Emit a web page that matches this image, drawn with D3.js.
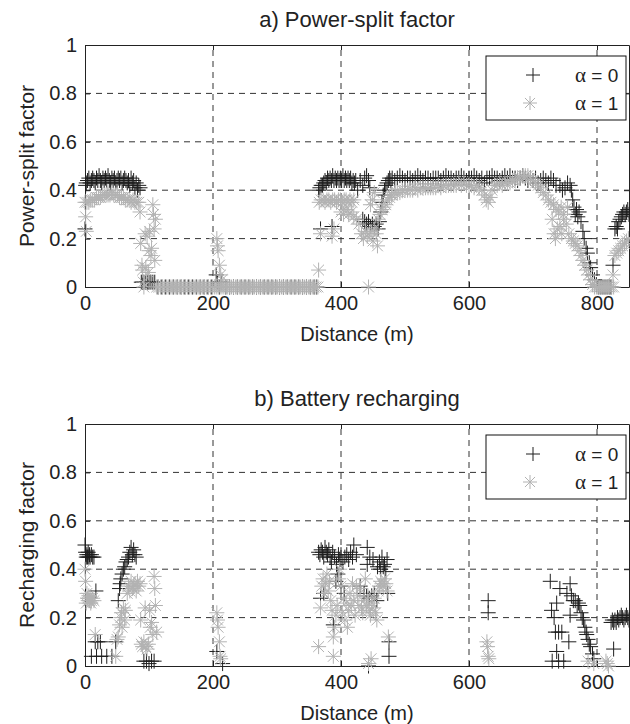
<!DOCTYPE html>
<html>
<head>
<meta charset="utf-8">
<title>Power-split and recharging factors</title>
<script src="https://d3js.org/d3.v7.min.js"></script>
<style>
  body { margin: 0; background: #fff; }
  text { font-family: "Liberation Sans", Arial, sans-serif; fill: #222; }
</style>
</head>
<body>
<div id="chart"></div>
<script>
// axis settings
var xTicks = [0, 200, 400, 600, 800];
var yTicks = [0, 0.2, 0.4, 0.6, 0.8, 1];
var yTickLabels = ["0", "0.2", "0.4", "0.6", "0.8", "1"];
var legendLabels = ["0", "1"];   // alpha values

// a) power-split factor, alpha = 0  [distance (m), factor]
var split0 = [
  [0,0.24],[1,0.42],[2,0.43],[4,0.44],[6,0.45],[8,0.43],[10,0.44],[12,0.45],[14,0.44],[16,0.43],[18,0.45],
  [20,0.44],[22,0.46],[24,0.44],[26,0.43],[28,0.45],[30,0.44],[32,0.45],[34,0.44],[36,0.46],[38,0.44],
  [40,0.43],[42,0.45],[44,0.44],[46,0.45],[48,0.43],[50,0.44],[52,0.45],[54,0.44],[56,0.45],[58,0.43],
  [60,0.44],[62,0.45],[64,0.44],[66,0.43],[68,0.44],[70,0.42],[72,0.45],[74,0.43],[76,0.44],[78,0.41],
  [80,0.43],[82,0.40],[84,0.42],[86,0.41],
  [88,0.02],[90,0.02],[92,0.02],[95,0.02],[98,0.02],[100,0.02],[103,0.02],[106,0.02],[109,0.02],
  [114,0],[120,0],[126,0],[132,0],[138,0],[144,0],[150,0],[156,0],[162,0],[168,0],[174,0],[180,0],
  [186,0],[192,0],[198,0],[205,0.05],[207,0.02],[210,0],[213,0.02],[220,0],[226,0],[232,0],[238,0],
  [244,0],[250,0],[256,0],[262,0],[268,0],[274,0],[280,0],[286,0],[292,0],[298,0],[304,0],[310,0],
  [316,0],[322,0],[328,0],[334,0],[340,0],[346,0],[352,0],[358,0],[362,0],
  [368,0.24],[386,0.25],
  [365,0.40],[367,0.41],[369,0.42],[371,0.42],[373,0.43],[375,0.44],[377,0.43],[379,0.45],[381,0.44],
  [383,0.45],[385,0.44],[387,0.46],[389,0.44],[391,0.45],[393,0.44],[395,0.45],[397,0.44],[399,0.45],
  [401,0.44],[403,0.46],[405,0.44],[407,0.45],[409,0.44],[411,0.45],[413,0.44],[415,0.45],[417,0.43],
  [419,0.44],[421,0.43],[423,0.44],[426,0.40],[430,0.44],[434,0.42],[437,0.45],[440,0.46],[443,0.44],
  [445,0.41],
  [434,0.28],[437,0.27],[440,0.26],[443,0.27],[446,0.25],[449,0.26],[452,0.25],[455,0.26],[458,0.24],
  [460,0.27],[462,0.31],[464,0.35],[466,0.38],[468,0.40],[470,0.42],[472,0.43],[474,0.44],[476,0.45],
  [478,0.44],
  [480,0.45],[484,0.44],[488,0.45],[492,0.46],[496,0.45],[500,0.44],[504,0.45],[508,0.45],[512,0.44],
  [516,0.45],[520,0.46],[524,0.45],[528,0.44],[532,0.45],[536,0.45],[540,0.44],[544,0.45],[548,0.45],
  [552,0.45],[556,0.44],[560,0.45],[564,0.46],[568,0.45],[572,0.45],[576,0.44],[580,0.45],[584,0.45],
  [588,0.46],[592,0.45],[596,0.44],[600,0.45],[604,0.45],[608,0.46],[612,0.45],[616,0.44],[620,0.45],
  [624,0.43],[628,0.45],[632,0.45],[636,0.46],[640,0.45],[644,0.45],[648,0.44],[652,0.45],[656,0.46],
  [660,0.45],[664,0.46],[668,0.45],[672,0.45],[676,0.44],[680,0.45],[684,0.46],[688,0.45],[692,0.44],
  [696,0.45],[700,0.44],[704,0.45],[708,0.43],[712,0.44],[716,0.45],[720,0.44],[724,0.43],[728,0.45],
  [732,0.44],[736,0.42],
  [742,0.42],[746,0.40],[750,0.41],[754,0.43],[758,0.42],[760,0.40],
  [762,0.36],[764,0.33],[766,0.30],[768,0.32],[770,0.29],[772,0.31],[775,0.27],[778,0.23],[780,0.20],
  [783,0.16],[785,0.14],[788,0.10],[790,0.08],[793,0.05],[796,0.03],[799,0.01],
  [802,0],[805,0],[808,0],[811,0],[814,0],[817,0],[820,0],[822,0],
  [825,0.09],[828,0.24],[830,0.25],[832,0.24],[834,0.27],[836,0.28],[838,0.29],[840,0.30],[842,0.31],
  [844,0.30],[846,0.31],[848,0.32],[850,0.30]
];

// a) power-split factor, alpha = 1
var split1 = [
  [0,0.35],[1,0.29],[2,0.23],
  [3,0.35],[6,0.35],[9,0.36],[12,0.36],[15,0.36],[18,0.37],[21,0.37],[24,0.37],[27,0.38],[30,0.38],
  [33,0.38],[36,0.38],[39,0.38],[42,0.39],[45,0.38],[48,0.38],[51,0.38],[54,0.37],[57,0.37],[60,0.37],
  [63,0.36],[66,0.36],[69,0.36],[72,0.35],[75,0.36],[78,0.35],[81,0.35],[84,0.35],
  [86,0.31],[87,0.18],[89,0.09],[90,0.07],[91,0.02],[92,0],[94,0.22],[95,0.08],[97,0.21],[99,0.06],
  [100,0.15],[101,0.23],[103,0.13],[104,0.16],[106,0.34],[107,0.30],[108,0.24],[109,0.11],[110,0.28],
  [112,0],[115,0],[118,0],[121,0],[124,0],[127,0],[130,0],[133,0],[136,0],[139,0],[142,0],[145,0],
  [148,0],[151,0],[154,0],[157,0],[160,0],[163,0],[166,0],[169,0],[172,0],[175,0],[178,0],[181,0],
  [184,0],[187,0],[190,0],[193,0],[196,0],[199,0],[202,0],[205,0],[208,0],[211,0],[214,0],[217,0],
  [220,0],[223,0],[226,0],[229,0],[232,0],[235,0],[238,0],[241,0],[244,0],[247,0],[250,0],[253,0],
  [256,0],[259,0],[262,0],[265,0],[268,0],[271,0],[274,0],[277,0],[280,0],[283,0],[286,0],[289,0],
  [292,0],[295,0],[298,0],[301,0],[304,0],[307,0],[310,0],[313,0],[316,0],[319,0],[322,0],[325,0],
  [328,0],[331,0],[334,0],[337,0],[340,0],[343,0],[346,0],[349,0],[352,0],[355,0],[358,0],[361,0],
  [364,0],
  [206,0.20],[207,0.17],[208,0.15],[210,0.09],[212,0.05],[214,0.03],
  [365,0.07],[368,0.22],[386,0.21],[389,0.24],
  [366,0.35],[369,0.36],[372,0.36],[375,0.35],[378,0.36],[381,0.36],[384,0.35],[387,0.36],[390,0.36],
  [393,0.35],[396,0.36],[399,0.36],[402,0.35],[405,0.36],[408,0.36],[411,0.35],[414,0.36],[417,0.35],
  [420,0.36],
  [400,0.31],[404,0.30],[408,0.32],[412,0.30],[416,0.31],[420,0.29],[424,0.28],[428,0.26],[432,0.22],
  [435,0.20],[438,0.23],[441,0.21],[444,0.22],[447,0.23],[450,0.19],[452,0.24],[455,0.22],[457,0.17],
  [446,0.34],[449,0.36],[452,0.39],[443,0],
  [458,0.28],[461,0.30],[464,0.32],[467,0.33],[470,0.34],[473,0.36],[476,0.37],[479,0.38],
  [480,0.38],[484,0.39],[488,0.39],[492,0.39],[496,0.40],[500,0.40],[504,0.40],[508,0.40],[512,0.40],
  [516,0.41],[520,0.40],[524,0.41],[528,0.41],[532,0.41],[536,0.41],[540,0.41],[544,0.41],[548,0.41],
  [552,0.42],[556,0.41],[560,0.42],[564,0.42],[568,0.42],[572,0.42],[576,0.42],[580,0.42],[584,0.43],
  [588,0.42],[592,0.43],[596,0.42],[600,0.42],[604,0.42],[608,0.41],[612,0.42],[616,0.41],[620,0.40],
  [624,0.38],[627,0.36],[630,0.35],[633,0.37],[636,0.40],[640,0.42],[644,0.42],[648,0.43],[652,0.42],
  [656,0.43],[660,0.43],[664,0.43],[668,0.44],[672,0.44],[676,0.45],[680,0.45],[684,0.46],[688,0.46],
  [692,0.46],[696,0.45],[700,0.44],[704,0.43],[708,0.42],[712,0.41],[716,0.39],[720,0.38],[724,0.36],
  [728,0.35],[732,0.34],[736,0.32],[740,0.31],[744,0.33],[748,0.30],[752,0.26],[756,0.22],[760,0.20],
  [730,0.28],[733,0.22],[735,0.20],[738,0.24],[742,0.25],[745,0.22],[748,0.28],[754,0.33],
  [763,0.19],[766,0.18],[769,0.17],[772,0.15],[775,0.13],[778,0.11],[781,0.09],[784,0.07],[787,0.05],
  [790,0.03],[793,0.01],[796,0],[799,0],[802,0],[805,0],[808,0],[811,0],[814,0],[817,0],[820,0],
  [823,0],[826,0],
  [825,0.05],[828,0.13],[831,0.14],[834,0.15],[837,0.16],[840,0.17],[843,0.18],[846,0.19],[849,0.20]
];

// b) battery recharging factor, alpha = 0
var charge0 = [
  [0,0.50],[1,0.47],[2,0.45],[3,0.46],[4,0.45],[5,0.47],[6,0.45],[7,0.46],[8,0.45],[10,0.46],
  [12,0.45],[14,0.45],
  [17,0.31],[16,0.10],[20,0.10],[24,0.10],[10,0.04],[18,0.04],[26,0.04],[34,0.04],[42,0.04],
  [48,0.10],[52,0.27],[54,0.32],[55,0.34],[56,0.36],[58,0.38],[60,0.40],[62,0.41],[64,0.43],
  [66,0.44],[68,0.45],[70,0.47],[72,0.49],[74,0.46],[76,0.48],[78,0.46],[80,0.45],
  [92,0.02],[96,0.02],[100,0.01],[104,0.02],[108,0.02],
  [206,0.06],[215,0.01],
  [365,0.47],[367,0.46],[369,0.48],[371,0.47],[373,0.45],[375,0.49],[377,0.47],[379,0.46],[381,0.48],
  [383,0.45],[385,0.43],[387,0.47],[390,0.45],[393,0.42],[396,0.46],[398,0.44],[400,0.46],[403,0.43],
  [406,0.45],[409,0.46],[412,0.44],[415,0.47],[418,0.45],[420,0.50],[424,0.46],[441,0.49],[441,0.42],
  [445,0.45],[450,0.44],[457,0.41],[460,0.43],[462,0.40],[464,0.45],[466,0.41],[468,0.42],[470,0.39],
  [472,0.44],
  [368,0.28],[373,0.30],[388,0.17],[392,0.35],[395,0.38],[400,0.33],[405,0.30],[430,0.33],[436,0.30],
  [440,0.29],[444,0.28],[448,0.29],[452,0.30],[456,0.27],[473,0.30],[475,0.10],[475,0.04],[443,0],
  [630,0.27],[630,0.22],
  [727,0.35],[742,0.32],[758,0.34],[753,0.30],[760,0.29],[763,0.27],[766,0.27],[769,0.25],[771,0.26],
  [773,0.25],[775,0.22],[777,0.20],[779,0.19],[781,0.16],[783,0.14],[784,0.13],[786,0.11],[788,0.09],
  [790,0.08],[793,0.05],[795,0.03],
  [729,0.23],[733,0.20],[737,0.26],[735,0.14],[740,0.14],[745,0.14],[756,0.10],[737,0.06],[730,0.02],
  [740,0.02],[748,0.02],[758,0.21],
  [826,0.07],[822,0.18],[824,0.19],[826,0.18],[828,0.19],[830,0.18],[832,0.20],[834,0.19],[836,0.20],
  [838,0.21],[840,0.20],[842,0.19],[844,0.20],[846,0.21],[848,0.20],[850,0.19]
];

// b) battery recharging factor, alpha = 1
var charge1 = [
  [0,0.40],[1,0.35],[2,0.26],[3,0.30],[4,0.28],[5,0.27],[6,0.29],[7,0.27],[8,0.28],[9,0.26],
  [10,0.27],[12,0.28],[14,0.27],[16,0.13],
  [48,0.04],[50,0.11],[52,0.12],[54,0.17],[56,0.20],[57,0.22],[58,0.16],[60,0.24],[62,0.19],[63,0.23],
  [66,0.30],[68,0.33],[70,0.31],[72,0.35],[74,0.32],[76,0.33],[78,0.34],[80,0.31],[82,0.35],[84,0.33],
  [86,0.34],
  [87,0.19],[88,0.09],[90,0.08],[92,0.10],[94,0.24],[95,0.08],[97,0.07],[99,0.09],[101,0.23],[102,0.16],
  [104,0.18],[106,0.13],[108,0.37],[109,0.32],[110,0.25],[112,0.14],
  [206,0.22],[207,0.19],[208,0.16],[210,0.10],[211,0.04],[212,0.03],
  [365,0.08],[368,0.24],[370,0.33],[372,0.36],[374,0.30],[376,0.34],[378,0.38],[380,0.31],[382,0.35],
  [384,0.27],[386,0.23],[388,0.12],[388,0.04],[390,0.16],[392,0.21],[394,0.25],[396,0.36],[398,0.40],
  [400,0.33],[402,0.22],[404,0.28],[406,0.19],[408,0.26],[410,0.16],[412,0.23],[414,0.30],[416,0.25],
  [418,0.34],[420,0.27],[422,0.21],[424,0.33],[426,0.29],[428,0.25],[430,0.32],[432,0.24],[434,0.22],
  [436,0.27],[438,0.36],[440,0.25],[442,0.29],[444,0.23],[446,0.21],[448,0.26],[450,0.24],[452,0.28],
  [454,0.22],[456,0.19],[458,0.31],[460,0.33],[462,0.35],[464,0.34],[466,0.33],[468,0.36],[470,0.34],
  [472,0.31],[474,0.12],[443,0.01],[447,0.03],
  [628,0.10],[629,0.08],[630,0.04],[631,0.03],
  [786,0.02],[795,0.01],[814,0.02],[816,0.01],[818,0]
];

var panels = [
  { title: "a) Power-split factor", ylabel: "Power-split factor", top: 45, titleY: 27, a0: split0, a1: split1 },
  { title: "b) Battery recharging", ylabel: "Recharging factor", top: 424, titleY: 406, a0: charge0, a1: charge1 }
];

var w = 630, h = 724;
var plotH = 242;
var ms = 7.5;   // marker half size
var black = "#1e1e1e", grey = "#b2b2b2";

var svg = d3.select("#chart").append("svg")
  .attr("width", w)
  .attr("height", h);

var x = d3.scaleLinear().domain([0, 850]).range([85, 629]);

function plusPath(px, py, s) {
  return "M" + (px - s) + "," + py + "H" + (px + s) + "M" + px + "," + (py - s) + "V" + (py + s);
}
function starPath(px, py, s) {
  var d = s * 0.72;
  return plusPath(px, py, s) +
    "M" + (px - d) + "," + (py - d) + "L" + (px + d) + "," + (py + d) +
    "M" + (px - d) + "," + (py + d) + "L" + (px + d) + "," + (py - d);
}

panels.forEach(function(p) {
  var y = d3.scaleLinear().domain([0, 1]).range([p.top + plotH, p.top]);
  var g = svg.append("g");

  // dashed grid
  g.selectAll(".gx").data(xTicks.slice(1)).enter().append("line")
    .attr("x1", function(d) { return x(d); }).attr("x2", function(d) { return x(d); })
    .attr("y1", y(0)).attr("y2", y(1))
    .attr("stroke", "#333").attr("stroke-dasharray", "6,5");
  g.selectAll(".gy").data(yTicks.slice(1, -1)).enter().append("line")
    .attr("x1", x(0)).attr("x2", x(850))
    .attr("y1", function(d) { return y(d); }).attr("y2", function(d) { return y(d); })
    .attr("stroke", "#333").attr("stroke-dasharray", "6,5");

  // axes, inward ticks like matlab
  var xAxis = g.append("g").attr("transform", "translate(0," + y(0) + ")")
    .call(d3.axisBottom(x).tickValues(xTicks).tickSize(-5).tickPadding(9).tickSizeOuter(0));
  xAxis.selectAll("text").style("font-size", "20px").style("font-family", "'Liberation Sans', Arial, sans-serif").attr("fill", "#222");
  g.append("g").attr("transform", "translate(0," + y(1) + ")")
    .call(d3.axisTop(x).tickValues(xTicks).tickSize(-5).tickSizeOuter(0).tickFormat(""));

  var yAxis = g.append("g").attr("transform", "translate(" + x(0) + ",0)")
    .call(d3.axisLeft(y).tickValues(yTicks).tickSize(-5).tickPadding(8).tickSizeOuter(0)
      .tickFormat(function(d, i) { return yTickLabels[i]; }));
  yAxis.selectAll("text").style("font-size", "20px").style("font-family", "'Liberation Sans', Arial, sans-serif").attr("fill", "#222");
  g.append("g").attr("transform", "translate(" + x(850) + ",0)")
    .call(d3.axisRight(y).tickValues(yTicks).tickSize(-5).tickSizeOuter(0).tickFormat(""));
  g.selectAll(".domain").attr("stroke", "#222");
  g.selectAll(".tick line").attr("stroke", "#222");

  // markers: alpha = 0 first, alpha = 1 on top
  g.append("path")
    .attr("d", p.a0.map(function(d) { return plusPath(x(d[0]), y(d[1]), ms); }).join(""))
    .attr("stroke", black).attr("stroke-width", 1).attr("fill", "none");
  g.append("path")
    .attr("d", p.a1.map(function(d) { return starPath(x(d[0]), y(d[1]), ms); }).join(""))
    .attr("stroke", grey).attr("stroke-width", 1).attr("fill", "none");

  // titles
  svg.append("text").attr("x", 357).attr("y", p.titleY)
    .attr("text-anchor", "middle").style("font-size", "22px").text(p.title);
  svg.append("text").attr("x", 357).attr("y", y(0) + 54)
    .attr("text-anchor", "middle").style("font-size", "20px").text("Distance (m)");
  svg.append("text")
    .attr("transform", "translate(34," + (p.top + plotH / 2) + ") rotate(-90)")
    .attr("text-anchor", "middle").style("font-size", "21px").text(p.ylabel);

  // legend
  var lg = svg.append("g").attr("transform", "translate(486," + (p.top + 11) + ")");
  lg.append("rect").attr("width", 140).attr("height", 64)
    .attr("fill", "#fff").attr("stroke", "#111");
  lg.append("path").attr("d", plusPath(47, 19, 7)).attr("stroke", black).attr("fill", "none");
  lg.append("path").attr("d", starPath(44, 47, 7)).attr("stroke", grey).attr("fill", "none");
  legendLabels.forEach(function(v, i) {
    var t = lg.append("text")
      .attr("x", 89).attr("y", 26 + i * 28)
      .style("font-size", "19px");
    t.append("tspan").style("font-family", "'Liberation Serif', serif").style("font-size", "21px").text("\u03b1");
    t.append("tspan").text(" = " + v);
  });
});
</script>
</body>
</html>
